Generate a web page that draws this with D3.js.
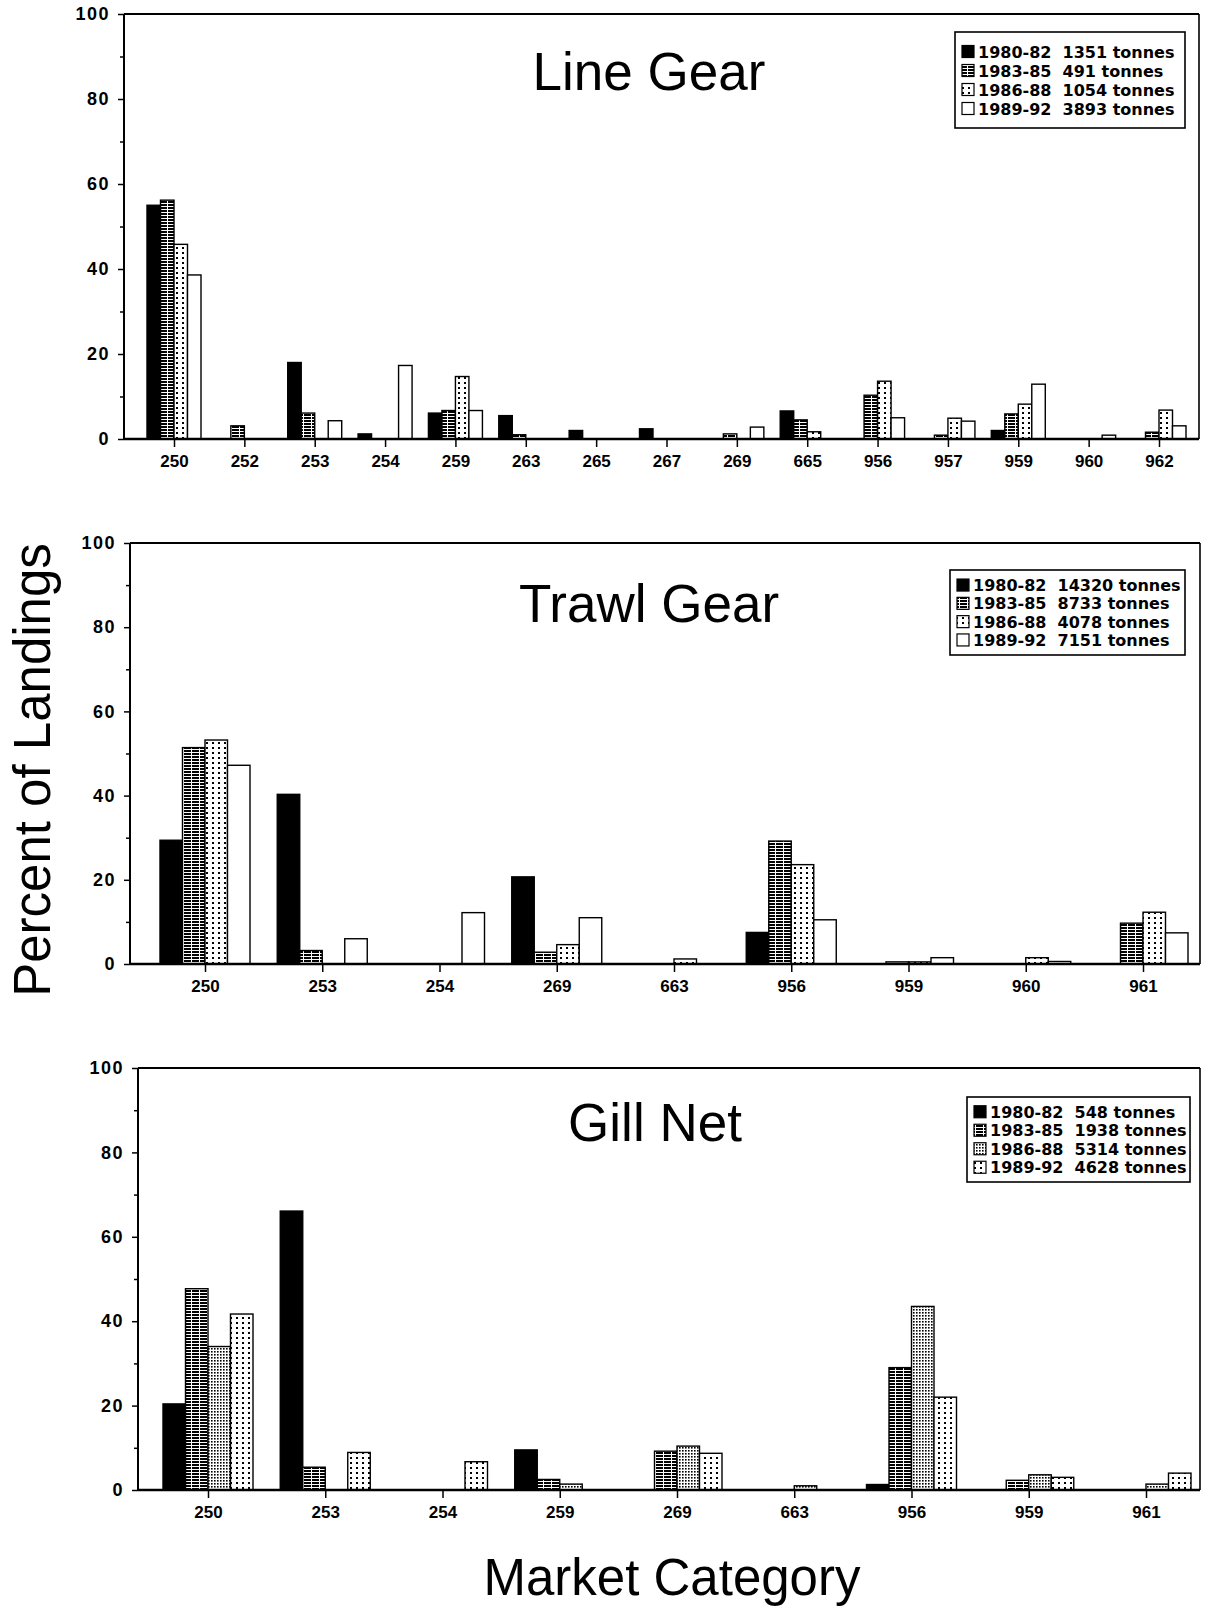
<!DOCTYPE html>
<html lang="en">
<head>
  <meta charset="UTF-8" />
  <title>Percent of Landings by Market Category</title>
  <script src="https://unpkg.com/d3@7/dist/d3.min.js"></script>
  <style>
    body { margin: 0; background: #fff; }
    svg { display: block; background: #fff; }
    .tick text { font-family: "Liberation Sans", Arial, sans-serif; font-weight: bold; fill: #000; }
    .tick line { stroke: #000; stroke-width: 1.5; }
    .title { font-family: "Liberation Sans", Arial, sans-serif; font-size: 53px; fill: #000; }
    .axis-title { font-family: "Liberation Sans", Arial, sans-serif; font-size: 51px; fill: #000; }
    .legend text { font-family: "DejaVu Sans", sans-serif; font-weight: bold; font-size: 16px; fill: #000; white-space: pre; }
  </style>
</head>
<body>
<svg id="chart" width="1210" height="1609"></svg>

<script>
// ---- data ----
const periods = ["1980-82", "1983-85", "1986-88", "1989-92"];
const yTicks = [0, 20, 40, 60, 80, 100];
const yMinor = [10, 30, 50, 70, 90];

// Line Gear
const lineCats   = ["250","252","253","254","259","263","265","267","269","665","956","957","959","960","962"];
const lineTonnes = ["1351", "491", "1054", "3893"];
const line8082 = [55.0, 0,   18.0, 1.2,  6.1, 5.5, 2.0, 2.4, 0,   6.6, 0,    0,   2.0,  0,   0];
const line8385 = [56.2, 3.1, 6.1,  0,    6.7, 1.0, 0,   0,   1.2, 4.5, 10.3, 0.9, 5.9,  0,   1.6];
const line8688 = [45.8, 0,   0,    0,   14.7, 0,   0,   0,   0,   1.7, 13.6, 4.9, 8.2,  0,   6.8];
const line8992 = [38.6, 0,   4.3, 17.3,  6.7, 0,   0,   0,   2.8, 0,   5.0,  4.2, 12.9, 0.9, 3.1];

// Trawl Gear
const trawlCats   = ["250","253","254","269","663","956","959","960","961"];
const trawlTonnes = ["14320", "8733", "4078", "7151"];
const trawl8082 = [29.4, 40.3, 0,    20.7, 0,   7.5,  0,   0,   0];
const trawl8385 = [51.4, 3.2,  0,    2.8,  0,   29.2, 0.5, 0,   9.7];
const trawl8688 = [53.2, 0,    0,    4.6,  1.2, 23.6, 0.5, 1.5, 12.3];
const trawl8992 = [47.2, 6.0,  12.2, 11.0, 0,   10.5, 1.5, 0.6, 7.4];

// Gill Net
const gillCats   = ["250","253","254","259","269","663","956","959","961"];
const gillTonnes = ["548", "1938", "5314", "4628"];
const gill8082 = [20.4, 66.1, 0,   9.5, 0,    0,   1.3,  0,   0];
const gill8385 = [47.7, 5.4,  0,   2.5, 9.2,  0,   29.0, 2.3, 0];
const gill8688 = [34.0, 0,    0,   1.4, 10.4, 1.0, 43.5, 3.6, 1.4];
const gill8992 = [41.7, 8.9,  6.7, 0,   8.7,  0,   22.0, 3.0, 4.0];

// ---- panels (data + layout) ----
const panels = [
  { title: "Line Gear", cats: lineCats, tonnes: lineTonnes,
    values: [line8082, line8385, line8688, line8992],
    fills: ["#000", "url(#hatch)", "url(#dots)", "#fff"],
    axisX: 124, right: 1199, top: 14, base: 439, first: 174, last: 1159, group: 54,
    titleX: 649, titleY: 90,
    legend: { x: 955, y: 32, w: 230, h: 96, row: 19 } },
  { title: "Trawl Gear", cats: trawlCats, tonnes: trawlTonnes,
    values: [trawl8082, trawl8385, trawl8688, trawl8992],
    fills: ["#000", "url(#hatch)", "url(#dots)", "#fff"],
    axisX: 130, right: 1200, top: 543, base: 964, first: 205, last: 1143, group: 90,
    titleX: 649, titleY: 622,
    legend: { x: 950, y: 570, w: 235, h: 85, row: 18.3 } },
  { title: "Gill Net", cats: gillCats, tonnes: gillTonnes,
    values: [gill8082, gill8385, gill8688, gill8992],
    fills: ["#000", "url(#hatch)", "url(#fine)", "url(#dots)"],
    axisX: 138, right: 1200, top: 1068, base: 1490, first: 208, last: 1146, group: 90,
    titleX: 655, titleY: 1141,
    legend: { x: 967, y: 1097, w: 223, h: 85, row: 18.5 } }
];

const svg = d3.select("#chart");

// fill patterns
const defs = svg.append("defs");
const hatch = defs.append("pattern").attr("id", "hatch")
  .attr("patternUnits", "userSpaceOnUse").attr("width", 8).attr("height", 3);
hatch.append("rect").attr("width", 8).attr("height", 3).attr("fill", "#fff");
hatch.append("rect").attr("width", 7).attr("height", 2).attr("fill", "#000");

const dots = defs.append("pattern").attr("id", "dots")
  .attr("patternUnits", "userSpaceOnUse").attr("width", 6).attr("height", 5);
dots.append("rect").attr("width", 6).attr("height", 5).attr("fill", "#fff");
dots.append("rect").attr("x", 2).attr("y", 2).attr("width", 2).attr("height", 2).attr("fill", "#000");

const fine = defs.append("pattern").attr("id", "fine")
  .attr("patternUnits", "userSpaceOnUse").attr("width", 3).attr("height", 3);
fine.append("rect").attr("width", 3).attr("height", 3).attr("fill", "#fff");
fine.append("rect").attr("x", 1).attr("y", 1).attr("width", 1.6).attr("height", 1.6).attr("fill", "#000");

panels.forEach(drawPanel);

function drawPanel(p) {
  const g = svg.append("g");
  const y  = d3.scaleLinear().domain([0, 100]).range([p.base, p.top]);
  const x  = d3.scalePoint().domain(p.cats).range([p.first, p.last]);
  const xs = d3.scaleBand().domain(periods).range([-p.group / 2, p.group / 2]);

  // bars
  periods.forEach((per, si) => {
    const rows = p.cats.map((c, i) => ({ c, v: p.values[si][i] })).filter(d => d.v > 0);
    g.append("g").selectAll("rect")
      .data(rows)
      .join("rect")
        .attr("x", d => x(d.c) + xs(per))
        .attr("width", xs.bandwidth())
        .attr("y", d => y(d.v))
        .attr("height", d => y(0) - y(d.v))
        .attr("fill", p.fills[si])
        .attr("stroke", "#000")
        .attr("stroke-width", 1.4);
  });

  // y axis
  const yAxis = g.append("g")
    .attr("transform", `translate(${p.axisX},0)`)
    .call(d3.axisLeft(y).tickValues(yTicks).tickSize(6).tickPadding(8));
  yAxis.select(".domain").remove();
  yAxis.selectAll("text").style("font-size", "18px").style("letter-spacing", "1.5px");

  const yMin = g.append("g")
    .attr("transform", `translate(${p.axisX},0)`)
    .call(d3.axisLeft(y).tickValues(yMinor).tickSize(4).tickFormat(""));
  yMin.select(".domain").remove();

  // x axis
  const xAxis = g.append("g")
    .attr("transform", `translate(0,${p.base})`)
    .call(d3.axisBottom(x).tickSize(8).tickPadding(8));
  xAxis.select(".domain").remove();
  xAxis.selectAll("text").style("font-size", "17px");

  // frame
  g.append("line").attr("x1", p.axisX).attr("x2", p.axisX).attr("y1", y(100)).attr("y2", y(0))
    .attr("stroke", "#000").attr("stroke-width", 2);
  g.append("line").attr("x1", p.axisX).attr("x2", p.right).attr("y1", y(0)).attr("y2", y(0))
    .attr("stroke", "#000").attr("stroke-width", 2.5);
  g.append("line").attr("x1", p.axisX).attr("x2", p.right).attr("y1", y(100)).attr("y2", y(100))
    .attr("stroke", "#000").attr("stroke-width", 1.8);
  g.append("line").attr("x1", p.right).attr("x2", p.right).attr("y1", y(100)).attr("y2", y(0))
    .attr("stroke", "#000").attr("stroke-width", 1.6);

  // title
  g.append("text").attr("class", "title")
    .attr("x", p.titleX).attr("y", p.titleY)
    .attr("text-anchor", "middle")
    .text(p.title);

  // legend
  const L = p.legend;
  const lg = g.append("g").attr("class", "legend");
  lg.append("rect").attr("x", L.x).attr("y", L.y).attr("width", L.w).attr("height", L.h)
    .attr("fill", "#fff").attr("stroke", "#000").attr("stroke-width", 1.6);
  const y0 = L.y + (L.h - 4 * L.row) / 2 + L.row / 2;
  periods.forEach((per, i) => {
    const cy = y0 + i * L.row;
    lg.append("rect").attr("x", L.x + 7).attr("y", cy - 6).attr("width", 12).attr("height", 12)
      .attr("fill", p.fills[i]).attr("stroke", "#000").attr("stroke-width", 1.2);
    lg.append("text").attr("x", L.x + 23).attr("y", cy + 6)
      .text(`${per}  ${p.tonnes[i]} tonnes`);
  });
}

// shared axis titles
svg.append("text").attr("class", "axis-title")
  .attr("transform", "translate(50,770) rotate(-90)")
  .attr("text-anchor", "middle")
  .text("Percent of Landings");

svg.append("text").attr("class", "axis-title")
  .attr("x", 672).attr("y", 1595)
  .attr("text-anchor", "middle")
  .text("Market Category");
</script>
</body>
</html>
